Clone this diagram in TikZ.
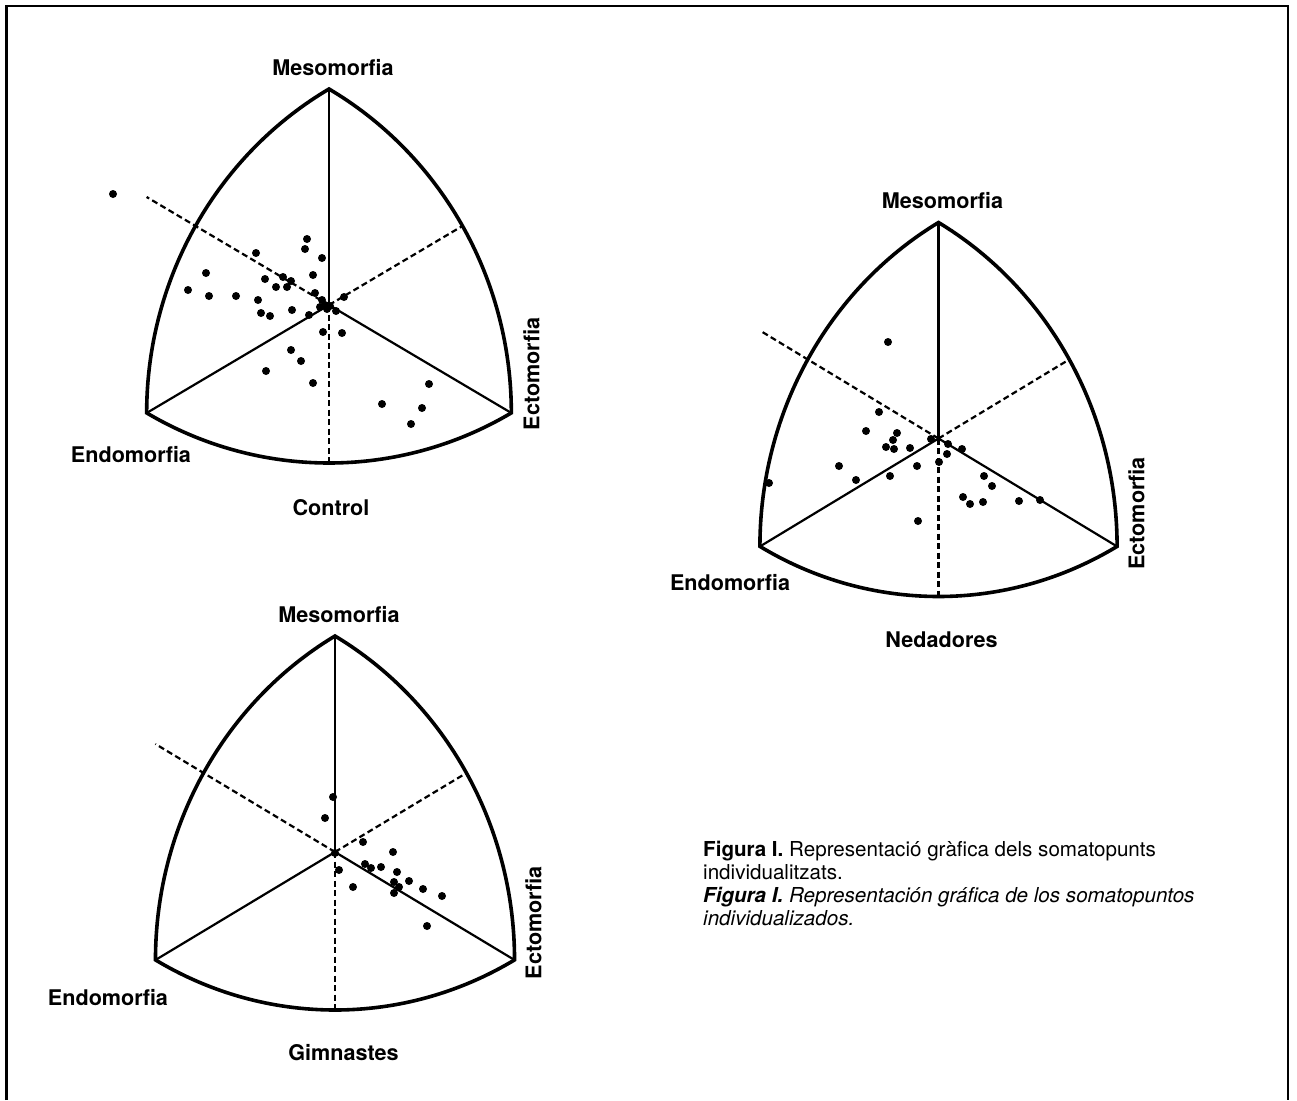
\documentclass[tikz,border=0pt]{standalone}
\usepackage{fontspec}
\setmainfont{TeX Gyre Heros}
\begin{document}
\begin{tikzpicture}[x=1pt, y=-1pt,
  vora/.style={line width=3.6pt, line join=miter},
  eix/.style={line width=2.2pt},
  eixdash/.style={line width=2.2pt, dash pattern=on 6pt off 3.5pt},
  rotul/.style={font=\fontsize{21.6}{25}\selectfont\bfseries, inner sep=0pt},
  peu/.style={font=\fontsize{20.6}{23}\selectfont, inner sep=0pt, align=left}]
\useasboundingbox (0,0) rectangle (1297,1100);
% marc
\draw[line width=2.6pt] (6.5,1100) -- (6.5,6) -- (1288,6) -- (1288,1100);

% Control
\begin{scope}[shift={(329,305)}, xscale=0.975]
\coordinate (ctrlC) at (0,0);
\coordinate (ctrlM) at (-90:216);
\coordinate (ctrlN) at (150:216);
\coordinate (ctrlE) at (30:216);
\coordinate (ctrlA) at (210:216);
\coordinate (ctrlB) at (-30:158);
\coordinate (ctrlD) at (90:158);
\draw[vora] (ctrlM) arc[start angle=-60, end angle=0, radius=374]
  arc[start angle=60, end angle=120, radius=374]
  arc[start angle=180, end angle=240, radius=374] -- cycle;
\end{scope}
\draw[eix] (ctrlC) -- (ctrlM);
\draw[eix] (ctrlC) -- (ctrlN);
\draw[eix] (ctrlC) -- (ctrlE);
\draw[eixdash] (ctrlC) -- (ctrlA);
\draw[eixdash] (ctrlC) -- (ctrlB);
\draw[eixdash] (ctrlC) -- (ctrlD);
\foreach \x/\y in {113/194, 307/239, 305/249, 256/253, 322/258, 206/273, 313/275,
  265/279, 283/277, 291/281, 188/290, 209/296, 236/296, 276/287, 287/287, 258/300,
  315/293, 322/300, 325/305, 320/307, 327/309, 330/306, 261/313, 270/316, 292/310,
  309/315, 336/311, 344/297, 323/332, 342/333, 291/350, 301/361, 266/371, 313/383,
  429/384, 382/404, 422/408, 411/424}
  \fill (\x,\y) circle[radius=4];
\node[rotul] (ctrlMlab) at (333,68) {Mesomorfia};
\node[rotul] (ctrlNlab) at (131,455) {Endomorfia};
\node[rotul, rotate=90] (ctrlElab) at (531.5,374) {Ectomorfia};
\node[rotul] (ctrlTit) at (331,508) {Control};

% Nedadores
\begin{scope}[shift={(938.5,438.5)}, xscale=0.955]
\coordinate (nedC) at (0,0);
\coordinate (nedM) at (-90:216);
\coordinate (nedN) at (150:216);
\coordinate (nedE) at (30:216);
\coordinate (nedA) at (210:216);
\coordinate (nedB) at (-30:158);
\coordinate (nedD) at (90:158);
\draw[vora] (nedM) arc[start angle=-60, end angle=0, radius=374]
  arc[start angle=60, end angle=120, radius=374]
  arc[start angle=180, end angle=240, radius=374] -- cycle;
\end{scope}
\draw[eix] (nedC) -- (nedM);
\draw[eix] (nedC) -- (nedN);
\draw[eix] (nedC) -- (nedE);
\draw[eixdash] (nedC) -- (nedA);
\draw[eixdash] (nedC) -- (nedB);
\draw[eixdash] (nedC) -- (nedD);
\foreach \x/\y in {888/342, 879/412, 866/431, 897/433, 893/440, 886/447, 894/449,
  910/448, 931/439, 948/444, 962/449, 947/454, 939/462, 917/466, 839/466, 890/476,
  856/480, 769/483, 984/476, 992/486, 963/497, 970/504, 983/502, 1019/501,
  1040/500, 918/521}
  \fill (\x,\y) circle[radius=4];
\node[rotul] (nedMlab) at (942.5,201) {Mesomorfia};
\node[rotul] (nedNlab) at (730,583) {Endomorfia};
\node[rotul, rotate=90] (nedElab) at (1136.5,513.5) {Ectomorfia};
\node[rotul] (nedTit) at (941.5,640) {Nedadores};

% Gimnastes
\begin{scope}[shift={(335,852)}, xscale=0.96]
\coordinate (gimC) at (0,0);
\coordinate (gimM) at (-90:216);
\coordinate (gimN) at (150:216);
\coordinate (gimE) at (30:216);
\coordinate (gimA) at (210:216);
\coordinate (gimB) at (-30:158);
\coordinate (gimD) at (90:158);
\draw[vora] (gimM) arc[start angle=-60, end angle=0, radius=374]
  arc[start angle=60, end angle=120, radius=374]
  arc[start angle=180, end angle=240, radius=374] -- cycle;
\end{scope}
\draw[eix] (gimC) -- (gimM);
\draw[eix] (gimC) -- (gimN);
\draw[eix] (gimC) -- (gimE);
\draw[eixdash] (gimC) -- (gimA);
\draw[eixdash] (gimC) -- (gimB);
\draw[eixdash] (gimC) -- (gimD);
\foreach \x/\y in {333/797, 325/818, 363/842, 393/852, 365/864, 371/868, 381/867,
  397/872, 339/870, 409/881, 394/882, 399/887, 394/893, 423/889, 442/896, 353/887,
  427/926, 335/853}
  \fill (\x,\y) circle[radius=4];
\node[rotul] (gimMlab) at (339,615) {Mesomorfia};
\node[rotul] (gimNlab) at (108,998) {Endomorfia};
\node[rotul, rotate=90] (gimElab) at (533.5,923) {Ectomorfia};
\node[rotul] (gimTit) at (343.5,1053) {Gimnastes};

% peu de figura
\node[peu, anchor=north west] (peu) at (703,840.5)
  {\textbf{Figura I.} Representació gràfica dels somatopunts\\
   individualitzats.\\
   {\bfseries\itshape Figura I.} {\itshape Representación gráfica de los somatopuntos}\\
   {\itshape individualizados.}};
\end{tikzpicture}
\end{document}
